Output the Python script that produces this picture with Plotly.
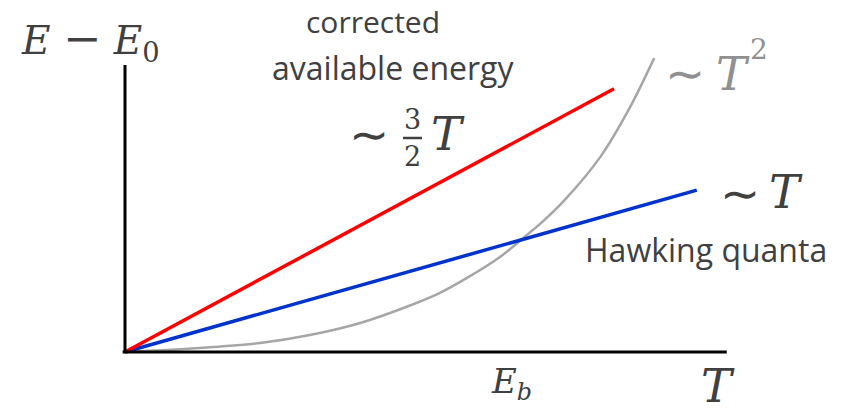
import plotly.graph_objects as go

# Temperature / energy values of the three curves (normalised units)
red_T = [0.0, 0.815]
red_E = [0.0, 0.917]

blue_T = [0.0, 0.953]
blue_E = [0.0, 0.564]

gray_T = [0.0, 0.125, 0.225, 0.308, 0.392, 0.475, 0.525, 0.570, 0.625, 0.670, 0.697, 0.733, 0.792, 0.842, 0.882]
gray_E = [0.0, 0.014, 0.031, 0.059, 0.101, 0.162, 0.206, 0.258, 0.331, 0.408, 0.456, 0.530, 0.679, 0.854, 1.024]

W, H = 841, 412
X0, Y0, SX, SY = 125, 352, 600, 287  # origin and unit lengths in pixels

TXT = "#404040"
GREY_TXT = "#909090"
MATH = "DejaVu Serif, serif"
TILDE = "DejaVu Sans, sans-serif"
SANS = "Open Sans, Noto Sans, sans-serif"


def paper(px, py):
    return px / W, 1 - py / H


fig = go.Figure()
fig.add_trace(go.Scatter(x=gray_T, y=gray_E, mode="lines",
                         line=dict(color="#A6A6A6", width=2.5, shape="spline", smoothing=0.8)))
fig.add_trace(go.Scatter(x=blue_T, y=blue_E, mode="lines",
                         line=dict(color="#0033CC", width=3.5)))
fig.add_trace(go.Scatter(x=red_T, y=red_E, mode="lines",
                         line=dict(color="#FF0000", width=3.5)))

# axis lines
fig.add_shape(type="line", x0=-0.004, y0=0, x1=1.003, y1=0, xref="x", yref="y",
              line=dict(color="black", width=3))
fig.add_shape(type="line", x0=0, y0=0, x1=0, y1=1.0, xref="x", yref="y",
              line=dict(color="black", width=3))


def label(text, px, py, size, family=MATH, color=TXT):
    x, y = paper(px, py)
    fig.add_annotation(text=text, x=x, y=y, xref="paper", yref="paper",
                       showarrow=False, xanchor="center", yanchor="middle",
                       font=dict(family=family, size=size, color=color))


# y-axis title: E − E0
label("<i>E</i> <span style='font-size:46px'>−</span> <i>E</i><sub>0</sub>", 90, 40, 39)
label("corrected", 373, 22, 30, SANS)
label("available energy", 393, 67, 32, SANS)

label("∼", 369, 134, 48, TILDE)
label("3", 412, 120, 27)
label("2", 412, 157, 27)
bx0, by = paper(403, 138)
bx1, _ = paper(422, 138)
fig.add_shape(type="line", x0=bx0, x1=bx1, y0=by, y1=by, xref="paper", yref="paper",
              line=dict(color=TXT, width=2.5))
label("<i>T</i>", 448, 134, 46)

label("∼", 685, 73, 48, TILDE, GREY_TXT)
label("<i>T</i>", 733, 74, 46, color=GREY_TXT)
label("2", 759, 50, 28, color=GREY_TXT)

label("∼", 740, 193, 48, TILDE)
label("<i>T</i>", 786, 192, 46)
label("Hawking quanta", 706, 250, 32, SANS)

label("<i>E</i><sub><i>b</i></sub>", 511, 383, 34)
label("<i>T</i>", 718, 386, 46)

fig.update_layout(
    width=W, height=H, margin=dict(l=0, r=0, t=0, b=0),
    paper_bgcolor="white", plot_bgcolor="white", showlegend=False,
    xaxis=dict(range=[-X0 / SX, (W - X0) / SX], visible=False, fixedrange=True),
    yaxis=dict(range=[-(H - Y0) / SY, Y0 / SY], visible=False, fixedrange=True),
)

fig.write_html("out.html", config={"displayModeBar": False})
